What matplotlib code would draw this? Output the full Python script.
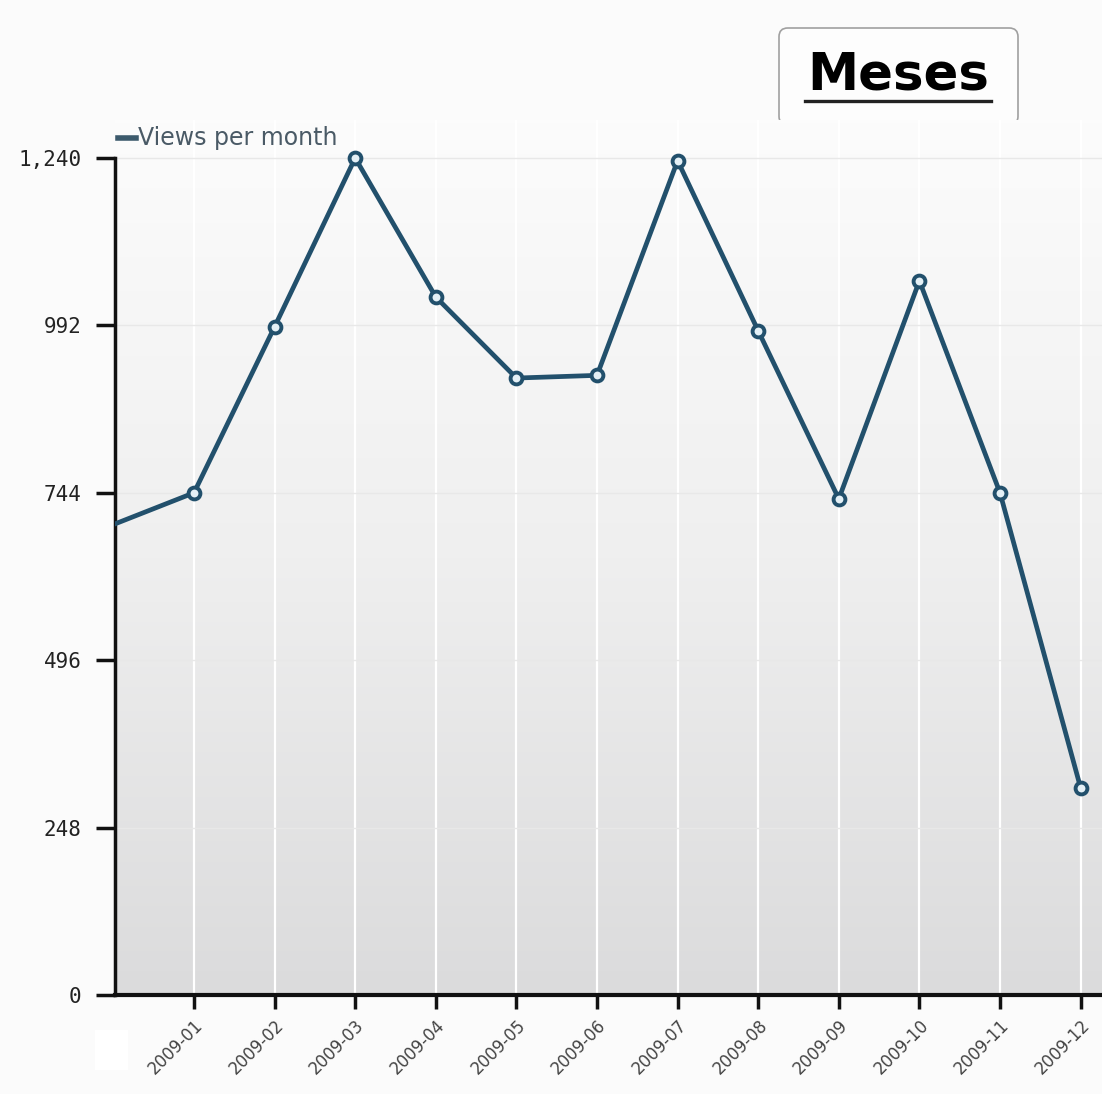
import numpy as np
import matplotlib
matplotlib.use("Agg")
import matplotlib.pyplot as plt
from matplotlib.patches import FancyBboxPatch, Rectangle
from matplotlib.lines import Line2D
from matplotlib.colors import LinearSegmentedColormap

months = ["2008-12", "2009-01", "2009-02", "2009-03", "2009-04", "2009-05", "2009-06",
          "2009-07", "2009-08", "2009-09", "2009-10", "2009-11", "2009-12"]
views = [697, 744, 990, 1240, 1034, 914, 918, 1236, 984, 735, 1058, 744, 307]
yticks = [0, 248, 496, 744, 992, 1240]
ytick_labels = ["0", "248", "496", "744", "992", "1,240"]
title = "Meses"
series_name = "Views per month"

W, H = 1102, 1094
fig = plt.figure(figsize=(W / 100, H / 100), dpi=100, facecolor="#fbfbfb")

ax_left, ax_right = 115, 1102
ax_bottom, ax_top = 995, 120
ax = fig.add_axes([ax_left / W, 1 - ax_bottom / H, (ax_right - ax_left) / W, (ax_bottom - ax_top) / H])

x = np.arange(len(months))
px_per_unit = (995 - 158) / 1240.0
ytop = (995 - 120) / px_per_unit
step = 80.6
xlim_left = 1 - (194 - 115) / step
xlim_right = 1 + (1102 - 194) / step
ax.set_xlim(xlim_left, xlim_right)
ax.set_ylim(0, ytop)

grad = np.linspace(0, 1, 256).reshape(-1, 1)
cmap = LinearSegmentedColormap.from_list("bg", ["#dbdbdc", "#efefef", "#fcfcfc"])
ax.imshow(grad, extent=[xlim_left, xlim_right, 0, ytop], aspect="auto", cmap=cmap,
          origin="lower", zorder=0)
ax.set_facecolor("#fbfbfb")

for xi in x[1:]:
    ax.axvline(xi, color="#ffffff", lw=1.6, zorder=1)
for yt in yticks:
    ax.axhline(yt, color="#e8e8e8", lw=1.0, zorder=1)

ax.plot(x, views, color="#22506c", lw=3.4, zorder=3, solid_joinstyle="round")
ax.plot(x[1:], views[1:], linestyle="none", marker="o", markersize=8.5,
        markerfacecolor="#e4f0f6", markeredgecolor="#22506c", markeredgewidth=2.8, zorder=4)

for s in ["top", "right"]:
    ax.spines[s].set_visible(False)
ax.spines["left"].set_bounds(0, 1240)
ax.spines["left"].set_linewidth(2.5)
ax.spines["bottom"].set_linewidth(3)
ax.spines["left"].set_color("#111111")
ax.spines["bottom"].set_color("#111111")

ax.set_yticks(yticks)
ax.set_yticklabels(ytick_labels, family="DejaVu Sans Mono", fontsize=15, color="#222222")
ax.tick_params(axis="y", length=14, width=2.5, color="#111111", pad=10)
ax.set_xticks(x[1:])
ax.set_xticklabels(months[1:], rotation=45, ha="right", rotation_mode="anchor",
                   fontsize=12, color="#444444")
ax.tick_params(axis="x", length=10, width=2.5, color="#111111", pad=5)

fig.add_artist(Rectangle((95 / W, 1 - 1070 / H), 33 / W, 40 / H, transform=fig.transFigure,
                         facecolor="#ffffff", edgecolor="none"))

fig.add_artist(Line2D([118 / W, 136 / W], [1 - 138 / H, 1 - 138 / H], color="#3c5a6c", lw=4))
fig.text(138 / W, 1 - 138 / H, series_name, fontsize=17, color="#4a5a66", va="center", ha="left")

box = FancyBboxPatch((779 / W, 1 - 125 / H), (1018 - 779) / W, (125 - 28) / H,
                     boxstyle="round,pad=0,rounding_size=0.008", transform=fig.transFigure,
                     facecolor="#fdfdfd", edgecolor="#a0a0a0", lw=1.2, zorder=0)
fig.add_artist(box)
fig.text(898 / W, 1 - 76 / H, title, fontsize=37, fontweight="bold", color="#000000",
         ha="center", va="center")
fig.add_artist(Line2D([805 / W, 991 / W], [1 - 101 / H, 1 - 101 / H], color="#222222", lw=2.4))

fig.savefig("out.png", dpi=100, facecolor=fig.get_facecolor())
